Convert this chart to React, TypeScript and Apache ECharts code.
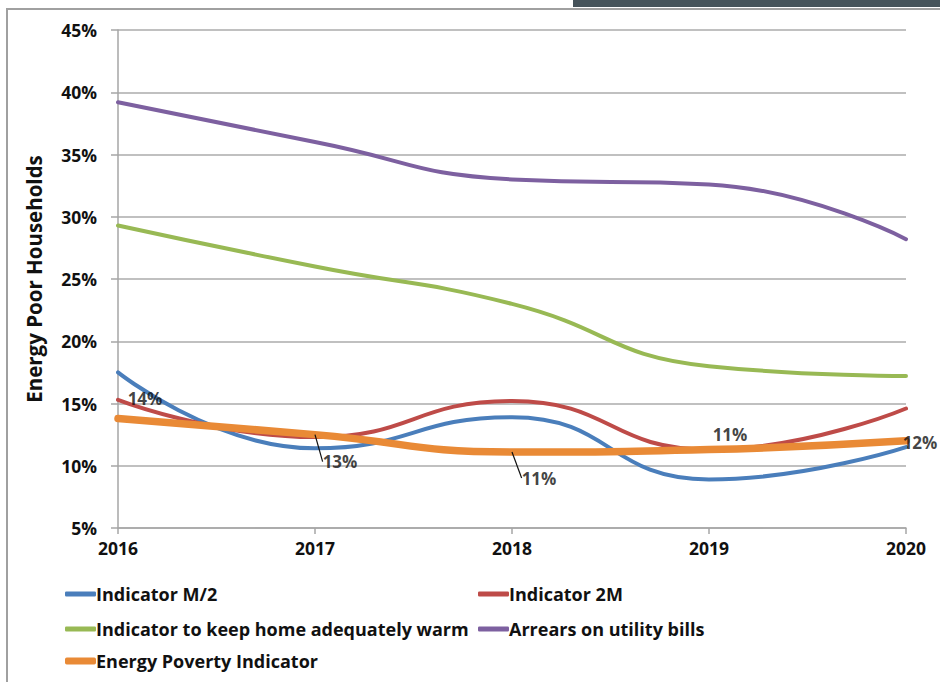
import React, { useEffect, useRef } from 'react';
import * as echarts from 'echarts';

const years = ['2016', '2017', '2018', '2019', '2020'];
const indicatorM2 = [17.5, 11.4, 13.9, 8.9, 11.5];
const indicator2M = [15.3, 12.3, 15.2, 11.3, 14.6];
const warmHome = [29.3, 26.0, 23.0, 18.0, 17.2];
const arrears = [39.2, 36.0, 33.0, 32.6, 28.2];
const energyPoverty = [13.8, 12.5, 11.1, 11.3, 12.0];
const epiLabels = ['14%', '13%', '11%', '11%', '12%'];

const names = [
  'Indicator M/2',
  'Indicator 2M',
  'Indicator to keep home adequately warm',
  'Arrears on utility bills',
  'Energy Poverty Indicator',
];
const colors = ['#4A7EBB', '#BE4B48', '#98B954', '#7D60A0', '#E98A36'];

// label offsets (dx, dy) and whether a leader line is drawn
const labelShift = [
  [27, -20, false],
  [25, 27, true],
  [27, 26, true],
  [21, -15, false],
  [14, 2, false],
];

const FONT = '"Open Sans", "Noto Sans", sans-serif';
const INK = '#111111';

export default function App() {
  const ref = useRef<HTMLDivElement>(null);
  useEffect(() => {
    if (!ref.current) return;
    const chart = echarts.init(ref.current, undefined, { renderer: 'svg' });
    const seriesData = [indicatorM2, indicator2M, warmHome, arrears, energyPoverty];
    const legendPos = [
      { left: 65, top: 585 },
      { left: 478, top: 585 },
      { left: 65, top: 620 },
      { left: 478, top: 620 },
      { left: 65, top: 652 },
    ];
    const option: any = {
      animation: false,
      backgroundColor: '#ffffff',
      textStyle: { fontFamily: FONT },
      grid: { left: 118, right: 34, top: 30, bottom: 154 },
      legend: names.map((n, i) => ({
        data: [n],
        left: legendPos[i].left,
        top: legendPos[i].top,
        padding: 0,
        icon: 'roundRect',
        itemWidth: 31,
        itemHeight: i === 4 ? 7 : 5,
        selectedMode: false,
        textStyle: { fontFamily: FONT, fontWeight: 'bold', fontSize: 18, color: INK, padding: [0, 0, 0, -5] },
      })),
      xAxis: {
        type: 'category',
        data: years,
        boundaryGap: false,
        axisLine: { lineStyle: { color: '#a6a6a6', width: 1.5 } },
        axisTick: { show: true, length: 6, lineStyle: { color: '#a6a6a6', width: 1.5 } },
        axisLabel: { fontFamily: FONT, fontWeight: 'bold', fontSize: 17.5, color: INK, margin: 11 },
      },
      yAxis: {
        type: 'value',
        min: 5,
        max: 45,
        interval: 5,
        name: 'Energy Poor Households',
        nameLocation: 'middle',
        nameGap: 74,
        nameTextStyle: { fontFamily: FONT, fontWeight: 'bold', fontSize: 20.5, color: INK },
        axisLine: { show: true, lineStyle: { color: '#a6a6a6', width: 1.5 } },
        axisTick: { show: true, length: 7, lineStyle: { color: '#a6a6a6', width: 1.5 } },
        axisLabel: { formatter: '{value}%', fontFamily: FONT, fontWeight: 'bold', fontSize: 17.5, color: INK, margin: 21 },
        splitLine: { lineStyle: { color: '#ababab', width: 1.5 } },
      },
      series: [
        ...names.map((n, i) => ({
          name: n,
          type: 'line',
          data: seriesData[i],
          smooth: 0.5,
          showSymbol: false,
          symbol: 'none',
          itemStyle: { color: colors[i] },
          lineStyle: { color: colors[i], width: i === 4 ? 7.5 : 4, cap: 'round' },
          z: i === 4 ? 5 : 3,
        })),
        {
          name: 'EPI labels',
          type: 'scatter',
          symbolSize: 0,
          z: 10,
          itemStyle: { color: INK },
          data: energyPoverty.map((v, i) => ({
            value: v,
            labelLine: { show: labelShift[i][2] as boolean },
          })),
          label: {
            show: true,
            position: 'inside',
            formatter: (p: any) => epiLabels[p.dataIndex],
            fontFamily: FONT,
            fontWeight: 'bold',
            fontSize: 17,
            color: INK,
            textBorderWidth: 0,
            textBorderColor: 'transparent',
          },
          labelLine: { show: false, lineStyle: { color: INK, width: 1.2 } },
          labelLayout: (p: any) => ({ dx: labelShift[p.dataIndex][0], dy: labelShift[p.dataIndex][1] }),
        },
      ],
      graphic: [
        { type: 'rect', shape: { x: 573, y: 0, width: 367, height: 7 }, style: { fill: '#46535a' } },
        { type: 'line', shape: { x1: 6, y1: 9, x2: 940, y2: 9 }, style: { stroke: '#a0a0a0', lineWidth: 2 } },
        { type: 'line', shape: { x1: 7, y1: 9, x2: 7, y2: 682 }, style: { stroke: '#a0a0a0', lineWidth: 2 } },
      ],
    };
    chart.setOption(option);
    return () => chart.dispose();
  }, []);
  return <div ref={ref} style={{ width: 940, height: 682, position: 'absolute', left: 0, top: 0 }} />;
}
